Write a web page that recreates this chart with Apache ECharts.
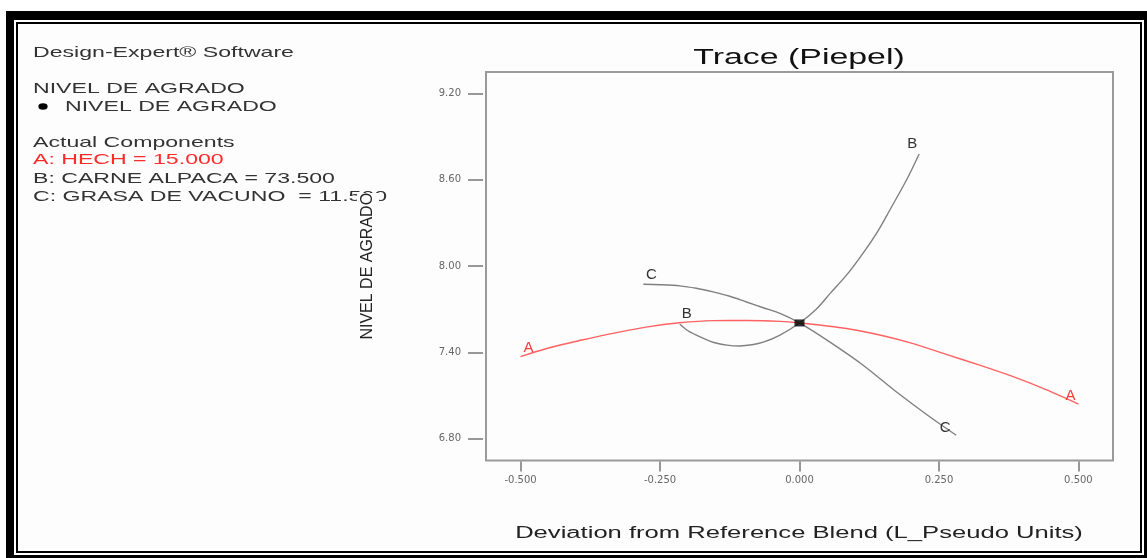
<!DOCTYPE html>
<html>
<head>
<meta charset="utf-8">
<script src="https://cdn.jsdelivr.net/npm/echarts@6/dist/echarts.min.js"></script>
<style>
  html, body { margin: 0; padding: 0; background: #ffffff; }
  #chart { width: 1147px; height: 558px; }
</style>
</head>
<body>
<div id="chart"></div>
<script>
// ---- Data (Trace (Piepel) plot) ----
const xTickValues = [-0.5, -0.25, 0, 0.25, 0.5];
const yTickValues = [6.8, 7.4, 8.0, 8.6, 9.2];

// Component A (HECH) trace
const traceA_x = [-0.5, -0.45, -0.39, -0.33, -0.275, -0.215, -0.155, -0.095, -0.035, 0, 0.084, 0.144, 0.204, 0.263, 0.323, 0.383, 0.442, 0.5];
const traceA_y = [7.37, 7.43, 7.485, 7.535, 7.575, 7.605, 7.62, 7.621, 7.615, 7.604, 7.565, 7.52, 7.46, 7.385, 7.31, 7.23, 7.14, 7.04];

// Component B (CARNE ALPACA) trace
const traceB_x = [-0.2145, -0.2, -0.185, -0.155, -0.13, -0.107, -0.085, -0.065, -0.035, 0, 0.03, 0.055, 0.085, 0.114, 0.14, 0.162, 0.192, 0.2145];
const traceB_y = [7.595, 7.55, 7.52, 7.47, 7.45, 7.444, 7.452, 7.47, 7.52, 7.604, 7.70, 7.81, 7.94, 8.09, 8.24, 8.39, 8.60, 8.78];

// Component C (GRASA DE VACUNO) trace
const traceC_x = [-0.28, -0.25, -0.2145, -0.185, -0.155, -0.125, -0.095, -0.065, -0.035, 0, 0.054, 0.114, 0.174, 0.234, 0.281];
const traceC_y = [7.873, 7.87, 7.862, 7.845, 7.82, 7.79, 7.75, 7.71, 7.67, 7.604, 7.472, 7.31, 7.124, 6.95, 6.823];

// Reference blend point
const refPoint = [0, 7.604];

const traceNames = ['A', 'B', 'C'];
const panelLines = [
  'Design-Expert® Software',
  'NIVEL DE AGRADO',
  'NIVEL DE AGRADO',
  'Actual Components',
  'A: HECH = 15.000',
  'B: CARNE ALPACA = 73.500',
  'C: GRASA DE VACUNO  = 11.500'
];
const titleText = 'Trace (Piepel)';
const xAxisTitle = 'Deviation from Reference Blend (L_Pseudo Units)';
const yAxisTitle = 'NIVEL DE AGRADO';

// ---- Build chart ----
const FONT = '"Liberation Sans", Arial, sans-serif';
const SX = 1.54; // horizontal stretch of the reference picture's text

function buildData(xs, ys, name, color, leftOff, rightOff) {
  return xs.map((x, i) => {
    const item = { value: [x, ys[i]] };
    if (i === 0 || i === xs.length - 1) {
      item.symbol = 'circle';
      item.symbolSize = 1;
      item.itemStyle = { color: 'rgba(0,0,0,0)' };
      item.label = {
        show: true,
        formatter: name,
        position: 'inside',
        offset: i === 0 ? leftOff : rightOff,
        color: color,
        fontSize: 15,
        fontFamily: FONT
      };
    }
    return item;
  });
}

function lineSeries(name, xs, ys, lineColor, labelColor, leftOff, rightOff) {
  return {
    type: 'line',
    name: name,
    data: buildData(xs, ys, name, labelColor, leftOff, rightOff),
    symbol: 'none',
    showSymbol: true,
    showAllSymbol: true,
    smooth: 0.3,
    lineStyle: { color: lineColor, width: 1.4 },
    emphasis: { disabled: true },
    silent: true,
    z: 3
  };
}

const panelY = [52.5, 88.7, 106.5, 142.5, 160.3, 178.8, 197];
const panelX = [33, 33, 65, 33, 33, 33, 33];
const panelGraphics = panelLines.map((t, i) => ({
  type: 'text',
  x: panelX[i],
  y: panelY[i],
  scaleX: SX,
  z: -5,
  style: {
    text: t,
    font: '15px ' + FONT,
    fill: i === 4 ? '#ff2b2b' : '#333333',
    textAlign: 'left', align: 'left',
    textVerticalAlign: 'middle', verticalAlign: 'middle'
  }
}));

const chart = echarts.init(document.getElementById('chart'), null, { renderer: 'canvas' });

chart.setOption({
  animation: false,
  backgroundColor: '#ffffff',
  graphic: [
    // outer frame
    { type: 'rect', z: -20, shape: { x: 6, y: 11, width: 1141, height: 547 }, style: { fill: '#000000' } },
    { type: 'rect', z: -19, shape: { x: 14, y: 20, width: 1130, height: 535 }, style: { fill: '#ffffff' } },
    { type: 'rect', z: -18, shape: { x: 17, y: 23, width: 1124, height: 529 }, style: { fill: '#fdfdfd', stroke: '#000000', lineWidth: 2 } },
    // legend bullet
    { type: 'circle', z: -5, x: 43, y: 106.5, scaleX: 1.4, shape: { cx: 0, cy: 0, r: 3.3 }, style: { fill: '#000000' } },
    ...panelGraphics,
    // title
    { type: 'text', x: 799, y: 58, scaleX: SX, z: 5,
      style: { text: titleText, font: '22px ' + FONT, fill: '#111111',
               textAlign: 'center', align: 'center', textVerticalAlign: 'middle', verticalAlign: 'middle' } },
    // x axis title
    { type: 'text', x: 799, y: 534, scaleX: 1.6, z: 5,
      style: { text: xAxisTitle, font: '16px ' + FONT, fill: '#222222',
               textAlign: 'center', align: 'center', textVerticalAlign: 'middle', verticalAlign: 'middle' } }
  ],
  grid: {
    left: 486, top: 72, right: 34, bottom: 97.5,
    show: true, borderColor: '#9a9a9a', borderWidth: 2, backgroundColor: 'transparent'
  },
  xAxis: {
    type: 'value',
    min: -0.562, max: 0.562,
    offset: 1,
    axisLine: { show: false, onZero: false },
    splitLine: { show: false },
    axisTick: { show: true, customValues: xTickValues, length: 10, lineStyle: { color: '#777777', width: 1.5 } },
    axisLabel: { customValues: xTickValues, formatter: v => v.toFixed(3), margin: 14,
                 fontSize: 10, color: '#666666', fontFamily: '"DejaVu Sans", sans-serif' }
  },
  yAxis: {
    type: 'value',
    min: 6.647, max: 9.35,
    offset: 3,
    z: 4,
    name: yAxisTitle,
    nameLocation: 'middle',
    nameRotate: 90,
    nameGap: 104,
    nameTextStyle: { fontSize: 16, fontFamily: FONT, color: '#222222', backgroundColor: '#fdfdfd', padding: [3, 0, 3, 0] },
    axisLine: { show: false, onZero: false },
    splitLine: { show: false },
    axisTick: { show: true, customValues: yTickValues, length: 15, lineStyle: { color: '#777777', width: 1.5 } },
    axisLabel: { customValues: yTickValues, formatter: v => v.toFixed(2), margin: 22,
                 fontSize: 10, color: '#666666', fontFamily: '"DejaVu Sans", sans-serif' }
  },
  series: [
    lineSeries(traceNames[0], traceA_x, traceA_y, '#ff6262', '#ff3a3a', [8, -9], [-8, -8]),
    lineSeries(traceNames[1], traceB_x, traceB_y, '#808080', '#333333', [7, -10], [-7, -10]),
    lineSeries(traceNames[2], traceC_x, traceC_y, '#808080', '#333333', [8, -9], [-11, -7]),
    {
      type: 'scatter',
      data: [refPoint],
      symbol: 'rect',
      symbolSize: [10, 7],
      itemStyle: { color: '#000000' },
      silent: true,
      z: 5
    }
  ]
});
</script>
</body>
</html>
